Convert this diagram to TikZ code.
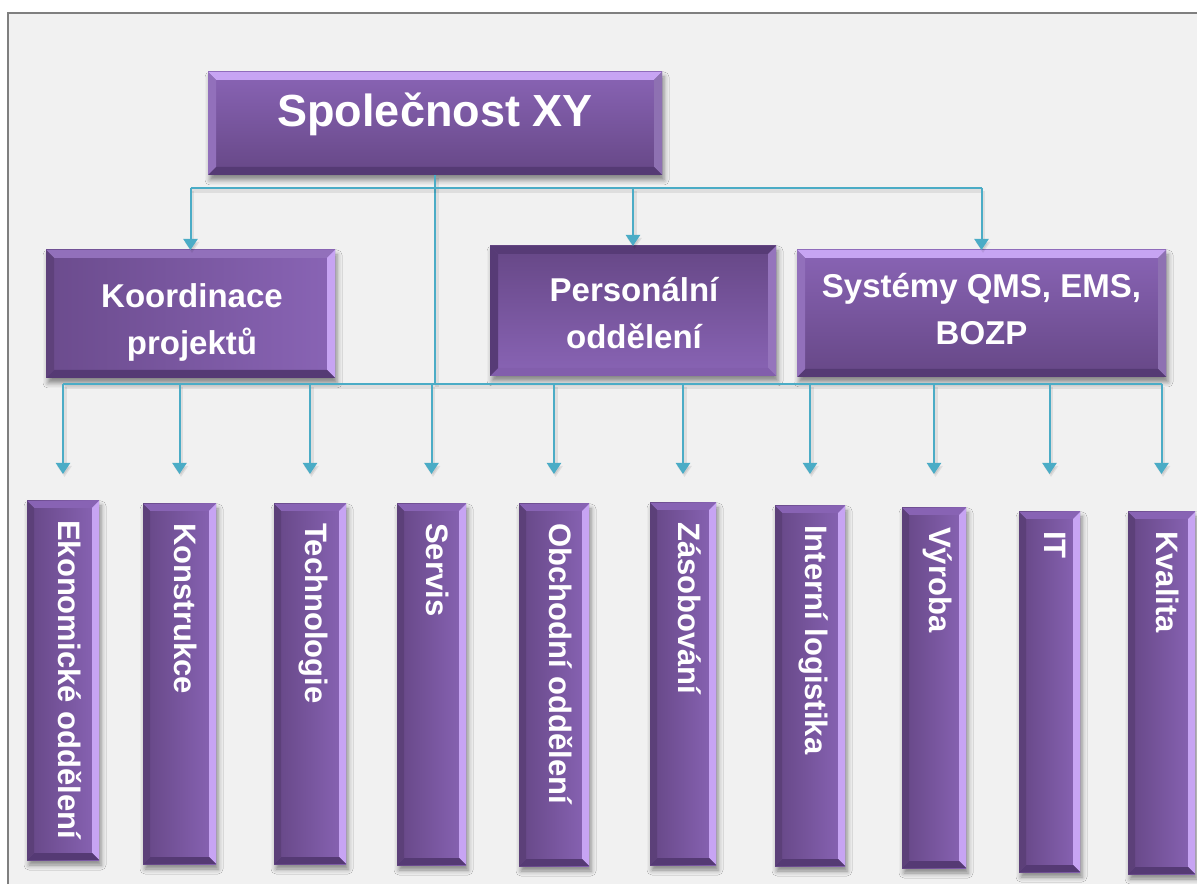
\documentclass[tikz,border=0pt]{standalone}
\usepackage{fontspec}
\setmainfont{Liberation Sans}
\usetikzlibrary{arrows.meta,shadows.blur,calc}

\definecolor{bg}{HTML}{F1F1F1}
\definecolor{framegray}{HTML}{7F7F7F}
\definecolor{wirecol}{HTML}{4BACC6}
\definecolor{pdark}{HTML}{664786}
\definecolor{pmid}{HTML}{7A58A5}
\definecolor{plight}{HTML}{8964B5}
\definecolor{bevlight}{HTML}{C7A4F3}
\definecolor{bevdark}{HTML}{553A74}

% four bevel strips inside a box: top, right, bottom, left colour, strip width
\newcommand\drawbevels[5]{%
  \path (path picture bounding box.north west) coordinate (pNW)
        (path picture bounding box.north east) coordinate (pNE)
        (path picture bounding box.south east) coordinate (pSE)
        (path picture bounding box.south west) coordinate (pSW);
  \fill[#1] (pNW) -- (pNE) -- ($(pNE)+(-#5,-#5)$) -- ($(pNW)+(#5,-#5)$) -- cycle;
  \fill[#2] (pNE) -- (pSE) -- ($(pSE)+(-#5,#5)$) -- ($(pNE)+(-#5,-#5)$) -- cycle;
  \fill[#3] (pSE) -- (pSW) -- ($(pSW)+(#5,#5)$) -- ($(pSE)+(-#5,#5)$) -- cycle;
  \fill[#4] (pSW) -- (pNW) -- ($(pNW)+(#5,-#5)$) -- ($(pSW)+(#5,#5)$) -- cycle;
}

\tikzset{
  box/.style={inner sep=0pt, outer sep=0pt, draw=none, text=white,
    blur shadow={shadow xshift=2pt, shadow yshift=-5pt, shadow opacity=45,
                 shadow blur radius=5pt}},
  headbox/.style={box, top color=plight, bottom color=pdark,
    path picture={\drawbevels{bevlight}{pmid!85!white}{bevdark}{plight!92!white}{8}}},
  leftbox/.style={box, left color=pdark!85!plight, right color=plight,
    path picture={\drawbevels{plight!92!white}{bevlight}{bevdark}{pdark!92!black}{8}}},
  midbox/.style={box, top color=pdark, bottom color=plight,
    path picture={\drawbevels{bevdark!90!pdark}{plight!90!white}{plight!80!pdark}{bevdark!90!pdark}{8}}},
  colbox/.style={box, left color=pdark, right color=plight,
    path picture={\drawbevels{plight!92!pmid}{bevlight}{bevdark}{pdark!90!black}{7}}},
  titletext/.style={text=white, inner sep=0pt, font=\bfseries\fontsize{45}{54}\selectfont},
  unittext/.style={text=white, inner sep=0pt, font=\bfseries\fontsize{33}{47}\selectfont,
    align=center},
  vlabel/.style={rotate=-90, anchor=base west, inner sep=0pt, text=white,
    font=\bfseries\fontsize{31}{36}\selectfont},
  wire/.style={draw=wirecol, line width=2pt,
    preaction={draw=black, opacity=0.08, line width=4pt,
               transform canvas={shift={(1.5pt,-3pt)}}}},
  arrowwire/.style={wire, -{Triangle[width=14pt,length=11pt]}}
}

\begin{document}
\begin{tikzpicture}[x=1pt,y=1pt]
\useasboundingbox (0,0) rectangle (1197,884);
% page, grey canvas and its frame
\fill[white] (0,0) rectangle (1197,884);
\fill[bg] (8,0) rectangle (1197,871);
\draw[framegray, line width=2pt] (8,0) -- (8,871) -- (1197,871);

% company
\node[headbox, minimum width=454pt, minimum height=103pt] (top) at (435,760.5) {};
\node[titletext, anchor=base] (topt) at (435,757) {Společnost XY};

% staff units
\node[leftbox, minimum width=289pt, minimum height=128pt] (koord) at (190.5,570) {};
\node[midbox, minimum width=286pt, minimum height=130pt] (pers) at (633,573) {};
\node[headbox, minimum width=369pt, minimum height=127pt] (sys) at (981.5,570.5) {};
\node[unittext] (koordt) at ($(koord.center)+(1.5,-8)$) {Koordinace\\projektů};
\node[unittext] (perst) at ($(pers.center)+(1,-2)$) {Personální\\oddělení};
\node[unittext] (syst) at ($(sys.center)+(0,4)$) {Systémy QMS, EMS,\\BOZP};

% departments
\node[colbox, minimum width=72pt, minimum height=359pt] (c1)  at (63,203.5) {};
\node[colbox, minimum width=73pt, minimum height=360pt] (c2)  at (179.5,200) {};
\node[colbox, minimum width=72pt, minimum height=360pt] (c3)  at (310,200) {};
\node[colbox, minimum width=69pt, minimum height=361pt] (c4)  at (431.5,199.5) {};
\node[colbox, minimum width=70pt, minimum height=362pt] (c5)  at (554,199) {};
\node[colbox, minimum width=66pt, minimum height=362pt] (c6)  at (683,200) {};
\node[colbox, minimum width=70pt, minimum height=360pt] (c7)  at (810,198) {};
\node[colbox, minimum width=64pt, minimum height=360pt] (c8)  at (934,196) {};
\node[colbox, minimum width=61pt, minimum height=360pt] (c9)  at (1049.5,192) {};
\node[colbox, minimum width=67pt, minimum height=362pt] (c10) at (1161.5,191) {};

\node[vlabel] (c1t)  at ($(c1.north)+(-5,-19)$)  {Ekonomické oddělení};
\node[vlabel] (c2t)  at ($(c2.north)+(-5,-19)$)  {Konstrukce};
\node[vlabel] (c3t)  at ($(c3.north)+(-5,-19)$)  {Technologie};
\node[vlabel] (c4t)  at ($(c4.north)+(-5,-19)$)  {Servis};
\node[vlabel] (c5t)  at ($(c5.north)+(-5,-19)$)  {Obchodní oddělení};
\node[vlabel] (c6t)  at ($(c6.north)+(-5,-19)$)  {Zásobování};
\node[vlabel] (c7t)  at ($(c7.north)+(-5,-19)$)  {Interní logistika};
\node[vlabel] (c8t)  at ($(c8.north)+(-5,-19)$)  {Výroba};
\node[vlabel] (c9t)  at ($(c9.north)+(-5,-19)$)  {IT};
\node[vlabel] (c10t) at ($(c10.north)+(-5,-19)$) {Kvalita};

% connectors
\coordinate (busA) at (435,696);
\coordinate (busB) at (435,500);
\coordinate (tips) at (0,410);

\draw[wire] (top.south) -- (busB);
\draw[wire] (koord.north |- busA) -- (sys.north |- busA);
\foreach \n in {koord,pers,sys}
  \draw[arrowwire] (\n.north |- busA) -- (\n.north);
\draw[wire] (c1.north |- busB) -- (c10.north |- busB);
\foreach \n in {1,...,10}
  \draw[arrowwire] (c\n.north |- busB) -- (c\n.north |- tips);
\end{tikzpicture}
\end{document}
